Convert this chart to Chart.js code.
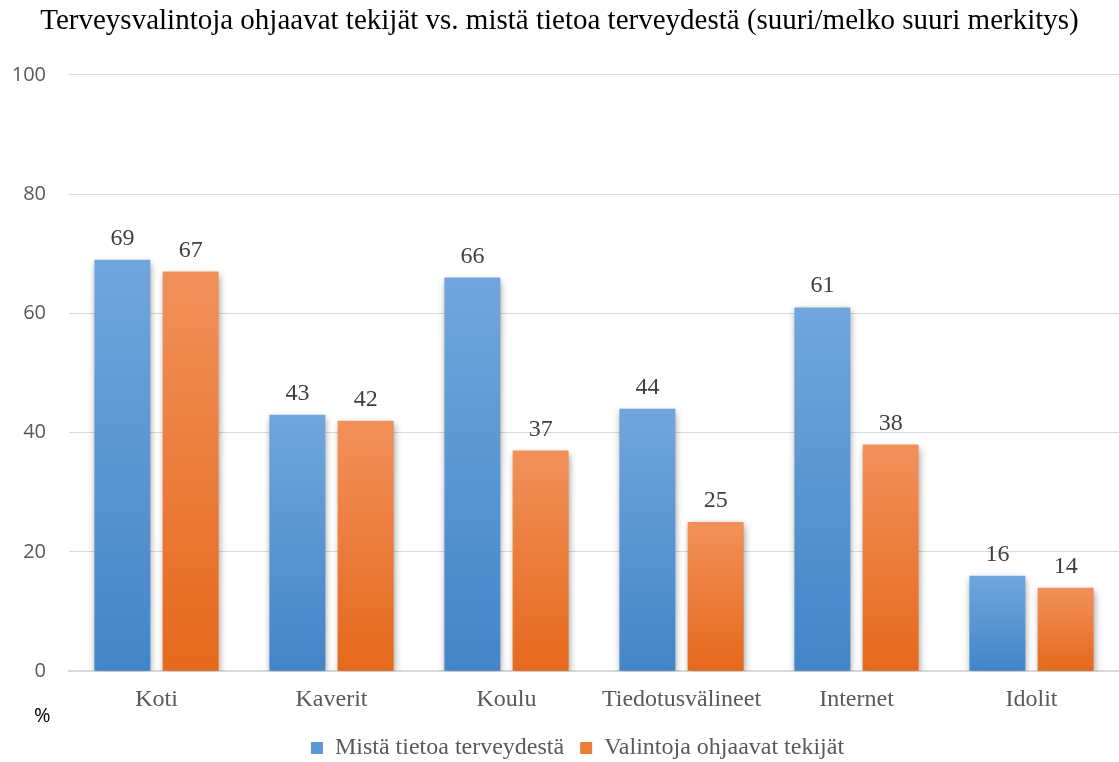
<!DOCTYPE html>
<html>
  <head>
    <script src="https://cdn.jsdelivr.net/npm/chart.js"></script>
    <style>
      html, body { margin: 0; padding: 0; background: #fff; }
      #wrap { width: 1119px; height: 762px; }
    </style>
    <script>
      // Chart values
      const chartTitle = 'Terveysvalintoja ohjaavat tekijät vs. mistä tietoa terveydestä (suuri/melko suuri merkitys)';
      const categories = ['Koti', 'Kaverit', 'Koulu', 'Tiedotusvälineet', 'Internet', 'Idolit'];
      const seriesNames = ['Mistä tietoa terveydestä', 'Valintoja ohjaavat tekijät'];
      const infoValues = [69, 43, 66, 44, 61, 16];
      const choiceValues = [67, 42, 37, 25, 38, 14];
      const yTicks = [0, 20, 40, 60, 80, 100];

      window.onload = function() {
        const serif = "'Liberation Serif', 'Times New Roman', serif";

        // Per-bar vertical gradient, lighter at the top like the Excel original
        function barGradient(top, bottom) {
          return function(context) {
            const chart = context.chart;
            const y = chart.scales.y;
            if (!chart.chartArea || !y || context.raw === undefined) return bottom;
            const yTop = y.getPixelForValue(context.raw);
            const yBase = y.getPixelForValue(0);
            if (!isFinite(yTop) || yTop === yBase) return bottom;
            const g = chart.ctx.createLinearGradient(0, yTop, 0, yBase);
            g.addColorStop(0, top);
            g.addColorStop(1, bottom);
            return g;
          };
        }

        // Soft shadow behind the bars
        const shadowPlugin = {
          id: 'barShadow',
          beforeDatasetsDraw(chart) {
            const ctx = chart.ctx;
            ctx.save();
            ctx.shadowColor = 'rgba(0,0,0,0.4)';
            ctx.shadowBlur = 7;
            ctx.shadowOffsetX = 1;
            ctx.shadowOffsetY = 3;
          },
          afterDatasetsDraw(chart) {
            chart.ctx.restore();
          }
        };

        // The original legend sits a little right of centre
        const legendShift = {
          id: 'legendShift',
          afterLayout(chart) {
            chart.legend.left += 18;
            chart.legend.right += 18;
          }
        };

        // Value labels above bars and the "%" unit label
        const labelPlugin = {
          id: 'valueLabels',
          afterDraw(chart) {
            const ctx = chart.ctx;
            ctx.save();
            ctx.font = '24px ' + serif;
            ctx.fillStyle = '#404040';
            ctx.textAlign = 'center';
            ctx.textBaseline = 'alphabetic';
            chart.data.datasets.forEach((ds, i) => {
              chart.getDatasetMeta(i).data.forEach((bar, j) => {
                ctx.fillText(ds.data[j], bar.x, bar.y - 15);
              });
            });
            ctx.font = "20px 'Open Sans', sans-serif";
            ctx.fillStyle = '#000';
            ctx.textAlign = 'left';
            ctx.textBaseline = 'middle';
            ctx.fillText('%', chart.chartArea.left - 35, chart.chartArea.bottom + 45);
            ctx.restore();
          }
        };

        const data = {
          labels: categories,
          datasets: [{
            label: seriesNames[0],
            data: infoValues,
            backgroundColor: barGradient('#70a6dd', '#4285c8'),
            borderWidth: 0,
            categoryPercentage: 0.78,
            barPercentage: 0.82
          }, {
            label: seriesNames[1],
            data: choiceValues,
            backgroundColor: barGradient('#f2905a', '#e5691b'),
            borderWidth: 0,
            categoryPercentage: 0.78,
            barPercentage: 0.82
          }]
        };

        const config = {
          type: 'bar',
          data: data,
          plugins: [shadowPlugin, legendShift, labelPlugin],
          options: {
            responsive: false,
            animation: false,
            layout: { padding: { left: 0, right: 0, top: 4, bottom: 0 } },
            plugins: {
              title: {
                display: true,
                text: chartTitle,
                color: '#000',
                font: { family: serif, size: 29, weight: 'normal' },
                padding: { top: 0, bottom: 36 }
              },
              legend: {
                position: 'bottom',
                maxHeight: 42,
                labels: {
                  color: '#595959',
                  font: { family: serif, size: 24 },
                  usePointStyle: true,
                  pointStyle: 'rect',
                  boxWidth: 12,
                  boxHeight: 12,
                  padding: 16,
                  generateLabels(chart) {
                    const fills = ['#5a98d6', '#ee7d35'];
                    return chart.data.datasets.map((ds, i) => ({
                      text: ds.label,
                      fillStyle: fills[i],
                      strokeStyle: fills[i],
                      lineWidth: 0,
                      pointStyle: 'rect',
                      datasetIndex: i,
                      fontColor: '#595959'
                    }));
                  }
                }
              },
              tooltip: { enabled: false }
            },
            scales: {
              x: {
                grid: { display: false },
                border: { color: '#d9d9d9', width: 2 },
                ticks: {
                  color: '#595959',
                  font: { family: serif, size: 24 },
                  padding: 6
                }
              },
              y: {
                min: 0,
                max: 100,
                afterBuildTicks(axis) {
                  axis.ticks = yTicks.map(v => ({ value: v }));
                },
                afterFit(axis) {
                  axis.width = 69;
                },
                grid: { color: '#d9d9d9', lineWidth: 1, drawTicks: false },
                border: { display: false },
                ticks: {
                  color: '#595959',
                  font: { family: "'Open Sans', sans-serif", size: 20 },
                  padding: 23
                }
              }
            }
          }
        };

        new Chart(document.getElementById('myChart'), config);
      };
    </script>
  </head>
  <body>
    <div id="wrap">
      <canvas id="myChart" width="1119" height="762"></canvas>
    </div>
  </body>
</html>
